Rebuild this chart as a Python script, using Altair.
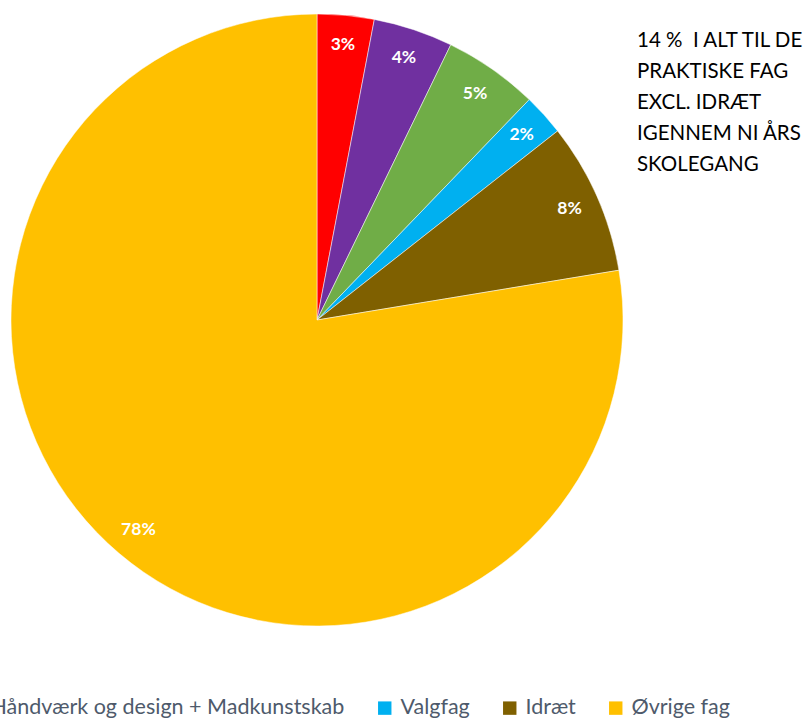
import altair as alt
import pandas as pd

categories = ["Billedkunst", "Musik", "Håndværk og design + Madkunstskab",
              "Valgfag", "Idræt", "Øvrige fag"]
shares = [3.0, 4.2, 5.0, 2.2, 8.0, 77.6]
labels = ["3%", "4%", "5%", "2%", "8%", "78%"]
colors = ["#FF0000", "#7030A0", "#70AD47", "#00B0F0", "#7F6000", "#FFC000"]
note_lines = ["14 %\u00a0 I ALT TIL DE", "PRAKTISKE FAG", "EXCL. IDRÆT",
              "IGENNEM NI ÅRS", "SKOLEGANG"]

df = pd.DataFrame({
    "kategori": categories,
    "andel": shares,
    "label": labels,
    "orden": list(range(len(categories))),
})

CX, CY, R = 317, 320, 306

base = alt.Chart(df).encode(
    theta=alt.Theta("andel:Q", stack=True, scale=alt.Scale(domain=[0, 100])),
    order=alt.Order("orden:Q"),
    x=alt.value(CX),
    y=alt.value(CY),
)

pie = base.mark_arc(outerRadius=R, stroke="white", strokeWidth=0.5).encode(
    color=alt.Color(
        "kategori:N",
        sort=categories,
        scale=alt.Scale(domain=categories, range=colors),
        legend=alt.Legend(
            orient="none",
            direction="horizontal",
            legendX=-309,
            legendY=697,
            title=None,
            symbolType="square",
            symbolSize=180,
            symbolStrokeWidth=0,
            labelFont="Lato",
            labelFontSize=21.5,
            labelColor="#4E5A6B",
            labelOffset=5,
            columnPadding=29,
            labelLimit=1000,
        ),
    )
)

text = base.mark_text(
    radius=276, font="Lato", fontWeight="bold", fontSize=17.5, color="white"
).encode(text="label:N", detail="kategori:N")

note = alt.Chart(pd.DataFrame({"t": [note_lines]})).mark_text(
    align="left", baseline="alphabetic", font="Lato", fontSize=20.5,
    lineHeight=31, color="#000000"
).encode(text="t", x=alt.value(637), y=alt.value(47))

chart = alt.layer(pie, text, note).properties(
    width=808, height=718, autosize=alt.AutoSizeParams(type="none"),
    padding=0,
).configure_view(stroke=None)

chart.save("out.html", embed_options={"renderer": "svg", "actions": False})
